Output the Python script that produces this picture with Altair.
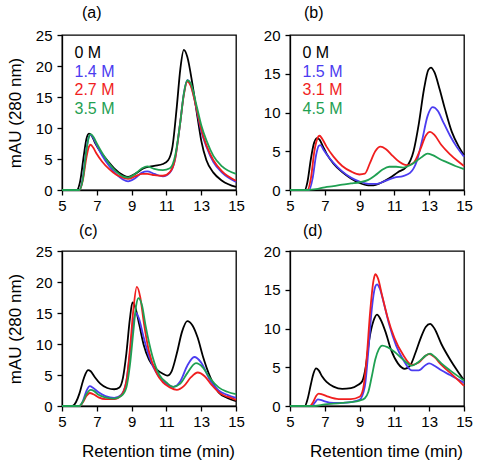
import altair as alt
import pandas as pd

FONT = "Liberation Sans"
COLORS = ["#000000", "#4b3cf0", "#f01e1e", "#1fa052"]
X_TICKS = [5, 7, 9, 11, 13, 15]

# ---- panel (a) ----
a_labels = ["0 M", "1.4 M", "2.7 M", "3.5 M"]
a_x0 = [5, 5.85, 6.05, 6.25, 6.4, 6.55, 6.7, 6.9, 7.2, 7.6, 8.0, 8.5, 8.8, 9.2, 9.7, 10.3, 10.8, 11.1, 11.35, 11.6, 11.8, 12.0, 12.2, 12.5, 12.8, 13.0, 13.3, 13.7, 14.2, 15]
a_y0 = [0, 0, 1.5, 5.5, 8.2, 9.1, 8.8, 7.6, 6.2, 4.8, 3.5, 2.4, 2.1, 2.6, 3.5, 3.9, 4.2, 4.8, 7.0, 13.5, 19.5, 22.6, 21.5, 17.0, 11.5, 8.0, 4.8, 2.8, 1.5, 0.5]
a_x1 = [5, 6.0, 6.2, 6.4, 6.55, 6.65, 6.8, 7.0, 7.3, 7.7, 8.1, 8.5, 8.8, 9.2, 9.6, 9.9, 10.3, 10.8, 11.2, 11.5, 11.8, 12.0, 12.2, 12.4, 12.7, 13.0, 13.3, 13.7, 14.2, 15]
a_y1 = [0, 0, 2.0, 6.5, 8.6, 8.9, 8.4, 7.2, 5.6, 3.9, 2.6, 1.7, 1.4, 1.9, 2.8, 3.0, 2.6, 2.2, 2.8, 5.0, 11.0, 15.5, 17.7, 17.0, 13.5, 9.5, 7.0, 4.5, 2.8, 1.3]
a_x2 = a_x1
a_y2 = [0, 0, 1.6, 5.2, 7.0, 7.3, 6.8, 5.8, 4.6, 3.4, 2.5, 2.0, 1.8, 2.2, 2.6, 2.6, 2.4, 2.3, 2.9, 5.0, 11.0, 15.3, 17.5, 16.8, 13.5, 9.8, 7.2, 4.8, 3.0, 1.5]
a_x3 = a_x1
a_y3 = [0, 0, 1.8, 6.4, 8.6, 9.0, 8.6, 7.5, 6.0, 4.3, 3.0, 2.2, 2.0, 2.6, 3.5, 3.8, 3.4, 3.2, 3.5, 5.5, 11.0, 15.5, 17.7, 17.2, 14.0, 10.5, 8.0, 5.5, 3.8, 2.6]

# ---- panel (b) ----
b_labels = ["0 M", "1.5 M", "3.1 M", "4.5 M"]
b_x0 = [5, 5.85, 6.0, 6.2, 6.35, 6.55, 6.7, 6.9, 7.1, 7.5, 8.0, 8.5, 9.0, 9.5, 9.8, 10.2, 10.7, 11.2, 11.7, 12.1, 12.4, 12.7, 12.95, 13.1, 13.3, 13.6, 13.9, 14.3, 14.7, 15]
b_y0 = [0, 0, 1.0, 4.0, 5.8, 6.7, 6.5, 5.6, 4.7, 3.4, 2.3, 1.5, 0.9, 0.6, 0.6, 0.9, 1.5, 2.3, 3.0, 5.0, 8.5, 13.0, 15.5, 15.8, 15.2, 13.0, 10.5, 7.5, 5.6, 4.5]
b_x1 = [5, 6.1, 6.3, 6.5, 6.65, 6.75, 6.9, 7.1, 7.5, 8.0, 8.5, 9.0, 9.5, 10.0, 10.5, 11.0, 11.5, 11.9, 12.3, 12.6, 12.9, 13.2, 13.5, 13.8, 14.2, 14.6, 15]
b_y1 = [0, 0, 1.5, 4.5, 5.7, 5.8, 5.3, 4.6, 3.5, 2.4, 1.6, 1.1, 0.8, 0.8, 1.2, 1.6, 1.8, 2.2, 3.8, 6.5, 9.5, 10.7, 10.2, 8.8, 7.0, 5.5, 4.3]
b_x2 = [5, 6.0, 6.2, 6.4, 6.55, 6.7, 6.85, 7.1, 7.5, 8.0, 8.5, 9.0, 9.3, 9.6, 9.9, 10.2, 10.5, 10.9, 11.3, 11.7, 12.1, 12.5, 12.8, 13.05, 13.3, 13.7, 14.2, 14.6, 15]
b_y2 = [0, 0, 1.5, 5.0, 6.5, 7.0, 6.6, 5.6, 4.3, 3.1, 2.4, 2.0, 2.1, 3.5, 5.0, 5.6, 5.3, 4.4, 3.6, 3.2, 3.5, 5.3, 7.0, 7.5, 7.1, 5.8, 4.6, 3.8, 3.1]
b_x3 = [5, 6.0, 6.5, 7.0, 7.5, 8.0, 8.5, 9.0, 9.5, 9.9, 10.3, 10.7, 11.1, 11.5, 11.9, 12.3, 12.6, 12.9, 13.2, 13.6, 14.0, 14.5, 15]
b_y3 = [0, 0, 0.1, 0.35, 0.5, 0.7, 0.85, 1.0, 1.3, 1.9, 2.6, 3.0, 3.0, 2.9, 3.2, 3.8, 4.3, 4.7, 4.5, 4.0, 3.6, 3.1, 2.7]

# ---- panel (c) ----
c_x0 = [5, 5.6, 5.8, 6.0, 6.2, 6.35, 6.5, 6.65, 6.9, 7.2, 7.6, 8.0, 8.3, 8.5, 8.7, 8.9, 9.05, 9.2, 9.45, 9.7, 10.0, 10.4, 10.8, 11.05, 11.3, 11.6, 11.9, 12.2, 12.5, 12.8, 13.1, 13.5, 14.0, 14.5, 15]
c_y0 = [0, 0, 0.6, 2.0, 4.0, 5.2, 5.8, 5.6, 4.6, 3.6, 2.9, 2.7, 3.0, 4.5, 8.5, 14.0, 16.7, 16.0, 13.0, 9.8, 7.5, 6.0, 5.2, 4.9, 5.6, 8.5, 12.0, 13.7, 13.0, 11.0, 8.0, 4.8, 2.2, 1.3, 0.8]
c_x1 = [5, 6.0, 6.2, 6.4, 6.6, 6.8, 7.1, 7.5, 8.0, 8.4, 8.7, 8.9, 9.1, 9.25, 9.4, 9.7, 10.0, 10.5, 11.0, 11.4, 11.8, 12.2, 12.6, 13.0, 13.5, 14.0, 14.5, 15]
c_y1 = [0, 0, 0.8, 2.4, 3.2, 2.9, 2.2, 1.6, 1.3, 1.8, 4.0, 8.5, 13.5, 15.0, 14.3, 11.0, 8.0, 5.0, 3.6, 3.1, 4.0, 6.5, 7.9, 7.0, 4.2, 2.5, 1.8, 1.3]
c_x2 = [5, 6.0, 6.2, 6.4, 6.6, 6.8, 7.1, 7.5, 8.0, 8.4, 8.7, 8.9, 9.1, 9.3, 9.5, 9.7, 10.0, 10.4, 10.8, 11.2, 11.6, 12.0, 12.4, 12.8, 13.2, 13.6, 14.1, 14.5, 15]
c_y2 = [0, 0, 0.6, 1.6, 2.1, 1.9, 1.4, 1.1, 1.1, 1.7, 4.0, 9.0, 15.5, 19.2, 17.5, 13.5, 8.8, 5.5, 3.8, 3.0, 2.6, 3.2, 4.6, 5.4, 4.8, 3.4, 2.0, 1.5, 1.0]
c_x3 = [5, 6.0, 6.2, 6.4, 6.65, 6.85, 7.1, 7.5, 8.0, 8.4, 8.7, 8.9, 9.1, 9.25, 9.4, 9.6, 9.8, 10.2, 10.6, 11.0, 11.4, 11.8, 12.2, 12.7, 13.1, 13.5, 14.0, 14.5, 15]
c_y3 = [0, 0, 0.7, 1.9, 2.6, 2.4, 1.8, 1.4, 1.2, 1.6, 3.0, 6.5, 12.0, 16.0, 17.4, 16.2, 13.0, 8.0, 5.0, 3.8, 3.1, 3.6, 5.3, 6.9, 6.2, 4.5, 3.0, 2.3, 1.9]

# ---- panel (d) ----
d_x0 = [5, 5.85, 6.0, 6.2, 6.35, 6.5, 6.65, 6.85, 7.1, 7.5, 8.0, 8.5, 8.9, 9.15, 9.35, 9.55, 9.8, 10.0, 10.2, 10.5, 10.8, 11.2, 11.6, 11.9, 12.2, 12.5, 12.8, 13.05, 13.3, 13.7, 14.2, 14.6, 15]
d_y0 = [0, 0, 0.8, 2.8, 4.2, 4.85, 4.6, 3.8, 3.1, 2.5, 2.2, 2.3, 2.7, 3.2, 5.0, 8.5, 11.0, 11.8, 11.2, 9.5, 7.3, 5.5, 4.8, 5.2, 6.8, 8.7, 10.2, 10.6, 10.0, 8.0, 6.0, 4.6, 3.3]
d_x1 = [5, 6.25, 6.45, 6.6, 6.75, 7.0, 7.5, 8.0, 8.5, 9.0, 9.3, 9.5, 9.7, 9.9, 10.0, 10.15, 10.4, 10.7, 11.1, 11.5, 12.0, 12.4, 12.8, 13.0, 13.3, 13.7, 14.2, 15]
d_y1 = [0, 0, 0.5, 0.85, 0.8, 0.6, 0.4, 0.4, 0.5, 0.8, 2.5, 7.0, 12.5, 15.4, 15.7, 15.2, 13.2, 10.5, 7.8, 6.0, 4.6, 4.6, 5.3, 5.5, 5.2, 4.6, 4.0, 3.0]
d_x2 = [5, 6.15, 6.35, 6.5, 6.65, 6.85, 7.2, 7.8, 8.5, 9.0, 9.2, 9.4, 9.6, 9.8, 9.9, 10.05, 10.3, 10.6, 11.0, 11.5, 12.0, 12.4, 12.8, 13.0, 13.3, 13.7, 14.2, 15]
d_y2 = [0, 0, 0.6, 1.3, 1.6, 1.5, 1.2, 0.9, 0.9, 1.2, 2.2, 6.0, 12.0, 16.2, 17.0, 16.5, 14.2, 11.5, 8.8, 6.6, 5.3, 5.6, 6.5, 6.7, 6.3, 5.3, 4.3, 2.6]
d_x3 = [5, 6.4, 7.0, 7.5, 8.0, 8.5, 9.0, 9.3, 9.5, 9.7, 9.9, 10.1, 10.3, 10.6, 11.0, 11.5, 12.0, 12.4, 12.8, 13.05, 13.3, 13.7, 14.2, 15]
d_y3 = [0, 0, 0.2, 0.3, 0.4, 0.5, 0.7, 1.0, 1.8, 3.8, 6.0, 7.3, 7.8, 7.6, 7.0, 6.0, 5.2, 5.7, 6.5, 6.75, 6.4, 5.5, 4.6, 3.3]

PANEL_W = 174
PANEL_H = 155


def panel(tag, ymax, labels, series, x_title, y_title, title_dx, title_offset):
    rows = []
    for k, (xs, ys) in enumerate(series):
        for t, v in zip(xs, ys):
            rows.append({"k": k, "t": t, "v": v})
    curves = pd.DataFrame(rows)

    # concentration labels stacked in the upper-left corner of the plot
    legend = pd.DataFrame({
        "k": list(range(len(labels))),
        "label": labels,
        "t": [5.72] * len(labels),
        "v": [ymax * (0.885 - 0.121 * k) for k in range(len(labels))],
    })

    x_axis = alt.Axis(values=X_TICKS, title=x_title, tickSize=5, labelPadding=3,
                      titlePadding=14, titleX=PANEL_W / 2 + 9, grid=False,
                      labelOverlap=False, labelFlush=False)
    y_axis = alt.Axis(values=list(range(0, ymax + 1, 5)), title=y_title, tickSize=5,
                      labelPadding=5, titlePadding=11, grid=False, labelOverlap=False,
                      labelFlush=False)
    xs = alt.X("t:Q", scale=alt.Scale(domain=[5, 15], nice=False, zero=False), axis=x_axis)
    ys = alt.Y("v:Q", scale=alt.Scale(domain=[0, ymax], nice=False), axis=y_axis)
    color = alt.Color("k:N", scale=alt.Scale(domain=[0, 1, 2, 3], range=COLORS), legend=None)

    lines = alt.Chart(curves).mark_line(strokeWidth=1.8, interpolate="monotone").encode(
        x=xs, y=ys, color=color, order=alt.Order("t:Q"))
    text = alt.Chart(legend).mark_text(align="left", baseline="middle", fontSize=16,
                                        font=FONT).encode(
        x=xs, y=ys, text="label:N", color=color)

    return alt.layer(lines, text).properties(
        width=PANEL_W, height=PANEL_H,
        title=alt.TitleParams(tag, anchor="start", frame="group", dx=title_dx,
                              offset=title_offset, fontSize=16, fontWeight="normal",
                              font=FONT),
    )


YT = "mAU (280 nm)"
XT = "Retention time (min)"
pa = panel("(a)", 25, a_labels, [(a_x0, a_y0), (a_x1, a_y1), (a_x2, a_y2), (a_x3, a_y3)], None, YT, 20, 7)
pb = panel("(b)", 20, b_labels, [(b_x0, b_y0), (b_x1, b_y1), (b_x2, b_y2), (b_x3, b_y3)], None, None, 14, 7)
pc = panel("(c)", 25, [], [(c_x0, c_y0), (c_x1, c_y1), (c_x2, c_y2), (c_x3, c_y3)], XT, YT, 17, 5)
pd_ = panel("(d)", 20, [], [(d_x0, d_y0), (d_x1, d_y1), (d_x2, d_y2), (d_x3, d_y3)], XT, None, 13, 5)

chart = alt.vconcat(
    alt.hconcat(pa, pb, spacing=17),
    alt.hconcat(pc, pd_, spacing=17),
    spacing=8,
).properties(
    padding={"left": 5, "top": 4, "right": 4, "bottom": 1}
).configure_view(
    stroke="black", strokeWidth=1.3
).configure_axis(
    domainColor="black", tickColor="black", labelColor="black", titleColor="black",
    labelFont=FONT, titleFont=FONT, labelFontSize=15, titleFontSize=17,
    titleFontWeight="normal", domainWidth=1.3, tickWidth=1.3
).configure_concat(spacing=17)

chart.save("out.html", embed_options={"renderer": "svg", "actions": False})
